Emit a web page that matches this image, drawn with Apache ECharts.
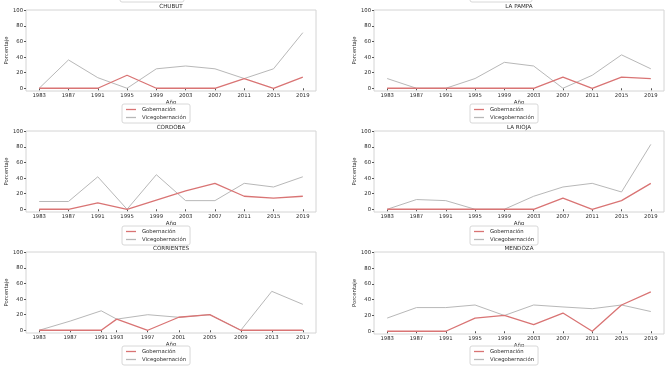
<!DOCTYPE html>
<html><head><meta charset="utf-8">
<script src="https://cdn.jsdelivr.net/npm/echarts@6/dist/echarts.min.js"></script>
<style>html,body{margin:0;padding:0;background:#fff}#c{width:670px;height:371px}</style>
</head><body><div id="c"></div>
<script>
const yearsStd = [1983,1987,1991,1995,1999,2003,2007,2011,2015,2019];
const yearsCorrientes = [1983,1987,1991,1993,1997,2001,2005,2009,2013,2017];
const yTicks = [0,20,40,60,80,100];

const chubutGob  = [0,0,0,16.7,0,0,0,12.5,0,14.3];
const chubutVice = [0,36.4,13.6,0,25,28.6,25,12.5,25,71.4];
const pampaGob   = [0,0,0,0,0,0,14.3,0,14.3,12.5];
const pampaVice  = [12.5,0,0,12.5,33.3,28.6,0,16.7,42.9,25];
const cordobaGob = [0,0,8.3,0,11.8,23.5,33.3,16.7,14.3,16.7];
const cordobaVice= [10,10,41.7,0,44.4,11.1,11.1,33.3,28.6,41.7];
const riojaGob   = [0,0,0,0,0,0,14.3,0,11.1,33.3];
const riojaVice  = [0,12.5,11.1,0,0,16.7,28.6,33.3,22.2,83.3];
const corrGob    = [0,0,0,14.3,0,16.7,20,0,0,0];
const corrVice   = [0,11.8,25,14.3,20,16.7,20,0,50,33.3];
const mendozaGob = [0,0,0,16.7,20,8.3,23.1,0,33.3,50];
const mendozaVice= [16.7,30,30,33.3,20,33.3,30.8,28.6,33.3,25];

const panels = [
  {title:'CHUBUT', years:yearsStd, gob:chubutGob, vice:chubutVice},
  {title:'LA PAMPA', years:yearsStd, gob:pampaGob, vice:pampaVice},
  {title:'CORDOBA', years:yearsStd, gob:cordobaGob, vice:cordobaVice},
  {title:'LA RIOJA', years:yearsStd, gob:riojaGob, vice:riojaVice},
  {title:'CORRIENTES', years:yearsCorrientes, gob:corrGob, vice:corrVice},
  {title:'MENDOZA', years:yearsStd, gob:mendozaGob, vice:mendozaVice}
];

const RED = '#d97474', GREY = '#b8b8b8', FRAME = '#d4d4d4', TXT = '#2a2a2a';
const FONT = 'DejaVu Sans';
const gridPos = [
  {left:26, top:10, h:81}, {left:374, top:10, h:81},
  {left:26, top:131, h:81}, {left:374, top:131, h:81},
  {left:26, top:252, h:81}, {left:374, top:252, h:82}
];
const legendPos = [
  {left:122, top:104}, {left:470, top:104},
  {left:122, top:226}, {left:470, top:226},
  {left:122, top:346}, {left:470, top:346}
];

const grid=[], xAxis=[], yAxis=[], series=[], title=[], legend=[];
panels.forEach((p,i)=>{
  const g = gridPos[i];
  grid.push({left:g.left, top:g.top, width:290, height:g.h, show:true, borderColor:FRAME, borderWidth:1, backgroundColor:'#fff'});
  const span = p.years[p.years.length-1]-p.years[0];
  xAxis.push({type:'value', gridIndex:i, min:p.years[0]-0.05*span, max:p.years[p.years.length-1]+0.05*span,
    name:'Año', nameLocation:'middle', nameGap:8, nameTextStyle:{fontSize:5.5, color:TXT, fontFamily:FONT},
    axisLine:{show:false}, splitLine:{show:false},
    axisTick:{show:true, length:2, lineStyle:{color:'#555'}, customValues:p.years},
    axisLabel:{fontSize:5.3, color:TXT, fontFamily:FONT, margin:2.5, customValues:p.years, formatter:v=>String(Math.round(v))}});
  yAxis.push({type:'value', gridIndex:i, min:-3.5, max:100.5,
    name:'Porcentaje', nameLocation:'middle', nameGap:11, nameTextStyle:{fontSize:5.3, color:TXT, fontFamily:FONT},
    axisLine:{show:false}, splitLine:{show:false},
    axisTick:{show:true, length:2, lineStyle:{color:'#555'}, customValues:yTicks},
    axisLabel:{fontSize:5.3, color:TXT, fontFamily:FONT, margin:3, customValues:yTicks}});
  series.push({type:'line', name:'Gobernación', xAxisIndex:i, yAxisIndex:i, showSymbol:false, symbol:'none',
    data:p.years.map((y,k)=>[y,p.gob[k]]), lineStyle:{color:RED, width:1.3}, itemStyle:{color:RED}, z:3});
  series.push({type:'line', name:'Vicegobernación', xAxisIndex:i, yAxisIndex:i, showSymbol:false, symbol:'none',
    data:p.years.map((y,k)=>[y,p.vice[k]]), lineStyle:{color:GREY, width:1}, itemStyle:{color:GREY}, z:2});
  title.push({text:p.title, left:g.left+145, top:g.top-6, textAlign:'center', padding:0,
    textStyle:{fontSize:5.6, fontWeight:'normal', color:TXT, fontFamily:FONT}});
  const lp = legendPos[i];
  legend.push({data:['Gobernación','Vicegobernación'], orient:'vertical', left:lp.left, top:lp.top,
    icon:'rect', itemWidth:10, itemHeight:1.3, itemGap:3, padding:[3,4,3,4],
    borderColor:'#d8d8d8', borderWidth:1, borderRadius:2, selectedMode:false,
    textStyle:{fontSize:5.3, color:TXT, fontFamily:FONT, padding:[0,0,0,1]}});
});

const chart = echarts.init(document.getElementById('c'), null, {renderer:'canvas'});
chart.setOption({
  animation:false, backgroundColor:'#fff',
  title, legend, grid, xAxis, yAxis, series,
  graphic:[{type:'rect', shape:{x:120, y:-10, width:64, height:12, r:2}, style:{fill:'#fff', stroke:'#d8d8d8', lineWidth:1}},
           {type:'rect', shape:{x:470, y:-10, width:62, height:12, r:2}, style:{fill:'#fff', stroke:'#d8d8d8', lineWidth:1}}]
});
</script></body></html>
